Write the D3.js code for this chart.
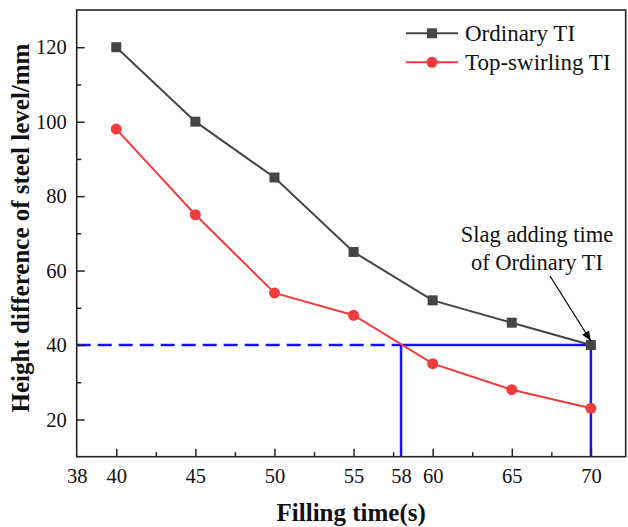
<!DOCTYPE html>
<html>
<head>
<meta charset="utf-8">
<script src="https://cdn.jsdelivr.net/npm/d3@7"></script>
<style>
  body { margin: 0; background: #fff; }
  svg text { font-family: "Liberation Serif", "Times New Roman", serif; fill: #111; }
</style>
</head>
<body>
<div id="chartArea"></div>
<script>
const svgWidth = 628;
const svgHeight = 527;

// data
const fillingTime = [40, 45, 50, 55, 60, 65, 70];
const ordinaryTI = [120, 100, 85, 65, 52, 46, 40];
const topSwirlingTI = [98, 75, 54, 48, 35, 28, 23];
const seriesNames = ['Ordinary TI', 'Top-swirling TI'];

const xTicks = [40, 45, 50, 55, 58, 60, 65, 70];
const xMinorTicks = [42.5, 47.5, 52.5, 57.5, 62.5, 67.5];
const yTicks = [20, 40, 60, 80, 100, 120];
const yMinorTicks = [30, 50, 70, 90, 110];
const originLabel = '38';

// reference lines: level 40 reached at 58 s (top-swirling) and 70 s (ordinary)
const refLevel = 40;
const refTimes = [58, 70];

const xDomain = [37.5, 72.2];
const yDomain = [10, 130];

const plot = { left: 76.7, right: 625.7, top: 10, bottom: 456.7 };

const x = d3.scaleLinear().domain(xDomain).range([plot.left, plot.right]);
const y = d3.scaleLinear().domain(yDomain).range([plot.bottom, plot.top]);

const canvas = d3.select('#chartArea')
  .append('svg')
  .attr('width', svgWidth)
  .attr('height', svgHeight);

const ordinaryColor = '#454545';
const swirlColor = '#f03c3c';
const refColor = '#1414ff';
const serif = '"Liberation Serif", "Times New Roman", serif';

// blue guide lines
canvas.append('line')
  .attr('x1', x(xDomain[0]))
  .attr('x2', x(refTimes[0]))
  .attr('y1', y(refLevel))
  .attr('y2', y(refLevel))
  .attr('stroke', refColor)
  .attr('stroke-width', 2.5)
  .attr('stroke-dasharray', '14,7');

canvas.append('line')
  .attr('x1', x(refTimes[0]))
  .attr('x2', x(refTimes[1]))
  .attr('y1', y(refLevel))
  .attr('y2', y(refLevel))
  .attr('stroke', refColor)
  .attr('stroke-width', 2.5);

canvas.selectAll('.ref-v')
  .data(refTimes)
  .enter()
  .append('line')
  .attr('class', 'ref-v')
  .attr('x1', d => x(d))
  .attr('x2', d => x(d))
  .attr('y1', y(refLevel))
  .attr('y2', y(yDomain[0]))
  .attr('stroke', refColor)
  .attr('stroke-width', 2.5);

// axes: labels
const xAxis = canvas.append('g')
  .attr('transform', `translate(0,${plot.bottom})`)
  .call(d3.axisBottom(x)
    .tickValues([xDomain[0]].concat(xTicks))
    .tickFormat(d => d === xDomain[0] ? originLabel : d)
    .tickSize(0)
    .tickPadding(11.5));

const yAxis = canvas.append('g')
  .attr('transform', `translate(${plot.left},0)`)
  .call(d3.axisLeft(y)
    .tickValues(yTicks)
    .tickSize(0)
    .tickPadding(10));

[xAxis, yAxis].forEach(g => {
  g.select('.domain').remove();
  g.selectAll('text')
    .style('font-size', '20.5px')
    .style('font-family', serif)
    .attr('fill', '#111');
});

// inward ticks
function tickMarks(axis, values, size) {
  const g = canvas.append('g');
  if (axis === 'x') {
    g.attr('transform', `translate(0,${plot.bottom})`)
      .call(d3.axisBottom(x).tickValues(values).tickSize(-size).tickFormat(''));
  } else {
    g.attr('transform', `translate(${plot.left},0)`)
      .call(d3.axisLeft(y).tickValues(values).tickSize(-size).tickFormat(''));
  }
  g.select('.domain').remove();
  g.selectAll('line').attr('stroke', '#222').attr('stroke-width', 1.5);
}
tickMarks('x', xTicks.filter(d => d !== refTimes[0]), 8);
tickMarks('x', xMinorTicks, 4.5);
tickMarks('y', yTicks, 8);
tickMarks('y', yMinorTicks, 4.5);

// frame
canvas.append('rect')
  .attr('x', plot.left)
  .attr('y', plot.top)
  .attr('width', plot.right - plot.left)
  .attr('height', plot.bottom - plot.top)
  .attr('fill', 'none')
  .attr('stroke', '#222')
  .attr('stroke-width', 1.6);

// series
const line = d3.line()
  .x(d => x(d[0]))
  .y(d => y(d[1]));

const ordinaryData = fillingTime.map((t, i) => [t, ordinaryTI[i]]);
const swirlData = fillingTime.map((t, i) => [t, topSwirlingTI[i]]);

canvas.append('path')
  .datum(ordinaryData)
  .attr('d', line)
  .attr('fill', 'none')
  .attr('stroke', ordinaryColor)
  .attr('stroke-width', 2);

canvas.append('path')
  .datum(swirlData)
  .attr('d', line)
  .attr('fill', 'none')
  .attr('stroke', swirlColor)
  .attr('stroke-width', 2);

canvas.selectAll('.sq')
  .data(ordinaryData)
  .enter()
  .append('rect')
  .attr('class', 'sq')
  .attr('x', d => x(d[0]) - 5)
  .attr('y', d => y(d[1]) - 5)
  .attr('width', 10)
  .attr('height', 10)
  .attr('fill', ordinaryColor);

canvas.selectAll('.dot')
  .data(swirlData)
  .enter()
  .append('circle')
  .attr('class', 'dot')
  .attr('cx', d => x(d[0]))
  .attr('cy', d => y(d[1]))
  .attr('r', 5.5)
  .attr('fill', swirlColor);

// legend
const legendY = [33.3, 62.3];
const legend = canvas.append('g');
seriesNames.forEach((name, i) => {
  const color = i === 0 ? ordinaryColor : swirlColor;
  legend.append('line')
    .attr('x1', 406).attr('x2', 458)
    .attr('y1', legendY[i]).attr('y2', legendY[i])
    .attr('stroke', color)
    .attr('stroke-width', 2);
  if (i === 0) {
    legend.append('rect')
      .attr('x', 427).attr('y', legendY[i] - 5)
      .attr('width', 10).attr('height', 10)
      .attr('fill', color);
  } else {
    legend.append('circle')
      .attr('cx', 432).attr('cy', legendY[i])
      .attr('r', 5.5)
      .attr('fill', color);
  }
  legend.append('text')
    .attr('x', 465)
    .attr('y', legendY[i] + 8)
    .style('font-size', '23px')
    .style('font-family', serif)
    .text(name);
});

// annotation
const note = canvas.append('text')
  .attr('text-anchor', 'middle')
  .style('font-size', '22.5px')
  .style('font-family', serif);
note.append('tspan').attr('x', 537).attr('y', 242).text('Slag adding time');
note.append('tspan').attr('x', 537).attr('y', 270).text('of Ordinary TI');

canvas.append('defs').append('marker')
  .attr('id', 'arrow')
  .attr('viewBox', '0 0 10 10')
  .attr('refX', 10)
  .attr('refY', 5)
  .attr('markerWidth', 10)
  .attr('markerHeight', 10)
  .attr('markerUnits', 'userSpaceOnUse')
  .attr('orient', 'auto')
  .append('path')
  .attr('d', 'M0,1 L10,5 L0,9 Z')
  .attr('fill', '#000');

canvas.append('line')
  .attr('x1', 550).attr('y1', 276)
  .attr('x2', x(refTimes[1])).attr('y2', y(refLevel) - 4)
  .attr('stroke', '#000')
  .attr('stroke-width', 1.2)
  .attr('marker-end', 'url(#arrow)');

// axis titles
canvas.append('text')
  .attr('x', (plot.left + plot.right) / 2)
  .attr('y', 521)
  .attr('text-anchor', 'middle')
  .style('font-size', '25px')
  .style('font-weight', 'bold')
  .style('font-family', serif)
  .text('Filling time(s)');

canvas.append('text')
  .attr('transform', 'translate(29,228) rotate(-90)')
  .attr('text-anchor', 'middle')
  .style('font-size', '25px')
  .style('font-weight', 'bold')
  .style('font-family', serif)
  .text('Height difference of steel level/mm');
</script>
</body>
</html>
